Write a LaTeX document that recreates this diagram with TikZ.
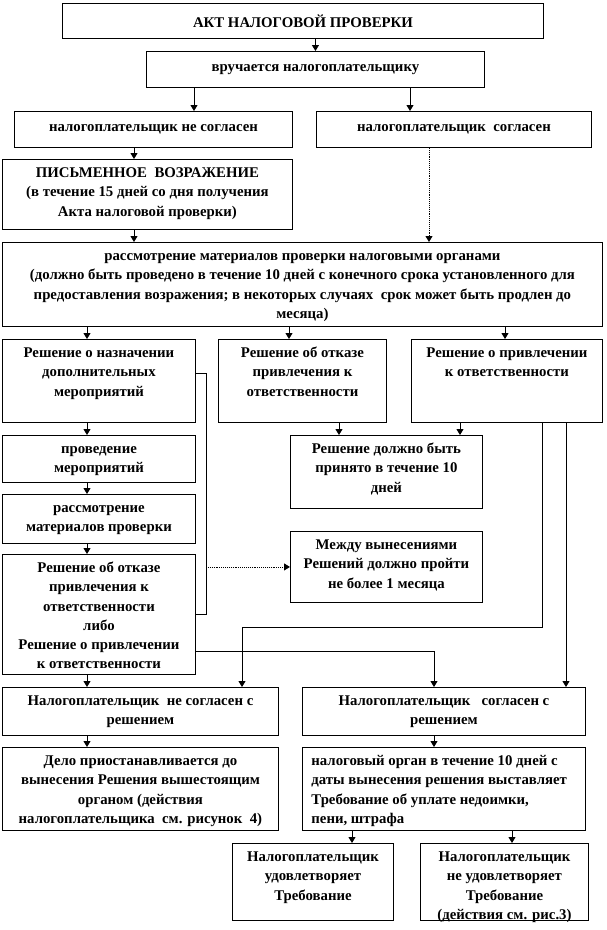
\documentclass[tikz,border=0pt]{standalone}
\usepackage{fontspec}
\setmainfont{Liberation Serif}[BoldFont={Liberation Serif Bold}]
\usetikzlibrary{arrows.meta}
\newcommand\bxc[3]{\parbox[c][#2pt][c]{#1pt}{\centering #3\par}}
\newcommand\bxt[3]{\parbox[c][#2pt][t]{#1pt}{\centering\vspace*{4.5pt}\strut #3\par}}
\newcommand\bxl[3]{\parbox[c][#2pt][t]{#1pt}{\raggedright\leftskip=9pt\vspace*{4.5pt}\strut #3\par}}
\begin{document}
\begin{tikzpicture}[x=1pt,y=-1pt,
  bx/.style={draw, line width=0.9pt, inner sep=0pt, anchor=north west,
    font=\bfseries\fontsize{14.8}{19.3}\selectfont},
  ar/.style={line width=0.9pt, -{Triangle[width=7pt,length=6pt]}},
  ln/.style={line width=0.9pt}]
\useasboundingbox (0,0) rectangle (606,930);

% boxes
\node[bx] (akt) at (62,3)   {\bxc{481}{35}{АКТ НАЛОГОВОЙ ПРОВЕРКИ}};
\node[bx] (vr)  at (146,51) {\bxc{338}{36}{вручается налогоплательщику}};
\node[bx] (nes) at (14,111) {\bxc{278}{36}{налогоплательщик не согласен}};
\node[bx] (sog) at (316,111){\bxc{275}{36}{налогоплательщик \ согласен}};
\node[bx] (pis) at (2,159)  {\bxt{290}{70}{ПИСЬМЕННОЕ \ ВОЗРАЖЕНИЕ\\(в течение 15 дней со дня получения\\Акта налоговой проверки)}};
\node[bx] (ras) at (2,242)  {\bxt{600}{84}{рассмотрение материалов проверки налоговыми органами\\(должно быть проведено в течение 10 дней с конечного срока установленного для\\предоставления возражения; в некоторых случаях \ срок может быть продлен до\\месяца)}};
\node[bx] (r1)  at (2,339)  {\bxt{193}{83}{Решение о назначении\\дополнительных\\мероприятий}};
\node[bx] (r2)  at (218,339){\bxt{168}{83}{Решение об отказе\\привлечения к\\ответственности}};
\node[bx] (r3)  at (411,339){\bxt{191}{83}{Решение о привлечении\\к ответственности}};
\node[bx] (pm)  at (2,435)  {\bxt{193}{47}{проведение\\мероприятий}};
\node[bx] (rm)  at (2,494)  {\bxt{193}{49}{рассмотрение\\материалов проверки}};
\node[bx] (r4)  at (2,554)  {\bxt{193}{120}{Решение об отказе\\привлечения к\\ответственности\\либо\\Решение о привлечении\\к ответственности}};
\node[bx] (rd)  at (290,435){\bxt{192}{73}{Решение должно быть\\принято в течение 10\\дней}};
\node[bx] (mv)  at (290,531){\bxt{192}{71}{Между вынесениями\\Решений должно пройти\\не более 1 месяца}};
\node[bx] (nsr) at (2,687)  {\bxt{276}{48}{Налогоплательщик \ не согласен с\\решением}};
\node[bx] (ssr) at (302,687){\bxt{283}{48}{Налогоплательщик \ \ согласен с\\решением}};
\node[bx] (delo) at (2,747) {\bxt{276}{83}{Дело приостанавливается до\\вынесения Решения вышестоящим\\органом (действия\\налогоплательщика \ см. рисунок \ 4)}};
\node[bx] (nal) at (302,747){\bxl{283}{83}{налоговый орган в течение 10 дней с\\даты вынесения решения выставляет\\Требование об уплате недоимки,\\пени, штрафа}};
\node[bx] (ud)  at (232,843){\bxt{161}{77}{Налогоплательщик\\удовлетворяет\\Требование}};
\node[bx] (nud) at (420,843){\bxt{168}{77}{Налогоплательщик\\не удовлетворяет\\Требование\\(действия см. рис.3)}};

% column coordinates
\coordinate (xa) at (194,0);
\coordinate (xb) at (410,0);
\coordinate (xc) at (134,0);
\coordinate (xd) at (429,0);
\coordinate (xe) at (87,0);
\coordinate (xf) at (289,0);
\coordinate (xg) at (505,0);
\coordinate (xh) at (339,0);
\coordinate (xi) at (460,0);
\coordinate (xj) at (542,0);
\coordinate (xk) at (566,0);
\coordinate (xl) at (242,0);
\coordinate (xm) at (434,0);
\coordinate (xn) at (352,0);
\coordinate (xo) at (512,0);
\coordinate (xbr) at (206,0);
\coordinate (ya) at (0,373);
\coordinate (yb) at (0,614);
\coordinate (yc) at (0,627);
\coordinate (yd) at (0,651);

% connectors
\draw[ar] (akt.south -| vr.north) -- (vr.north);
\draw[ar] (vr.south -| xa) -- (nes.north -| xa);
\draw[ar] (vr.south -| xb) -- (sog.north -| xb);
\draw[ar] (nes.south -| xc) -- (pis.north -| xc);
\draw[ar] (pis.south -| xc) -- (ras.north -| xc);
\draw[ar, densely dotted] (sog.south -| xd) -- (ras.north -| xd);
\draw[ar] (ras.south -| xe) -- (r1.north -| xe);
\draw[ar] (ras.south -| xf) -- (r2.north -| xf);
\draw[ar] (ras.south -| xg) -- (r3.north -| xg);
\draw[ar] (r1.south -| xe) -- (pm.north -| xe);
\draw[ar] (pm.south -| xe) -- (rm.north -| xe);
\draw[ar] (rm.south -| xe) -- (r4.north -| xe);
\draw[ar] (r2.south -| xh) -- (rd.north -| xh);
\draw[ar] (r3.south -| xi) -- (rd.north -| xi);
\draw[ln] (r1.east |- ya) -- (xbr |- ya) -- (xbr |- yb) -- (r4.east |- yb);
\coordinate (bm) at (xbr |- mv.west);
\draw[ar, densely dotted] (bm) -- (mv.west);
\draw[ar] (r3.south -| xj) -- (xj |- yc) -- (xl |- yc) -- (nsr.north -| xl);
\draw[ar] (r3.south -| xk) -- (ssr.north -| xk);
\draw[ar] (r4.east |- yd) -- (xm |- yd) -- (ssr.north -| xm);
\draw[ar] (r4.south -| xe) -- (nsr.north -| xe);
\draw[ar] (nsr.south -| xe) -- (delo.north -| xe);
\draw[ar] (ssr.south -| xm) -- (nal.north -| xm);
\draw[ar] (nal.south -| xn) -- (ud.north -| xn);
\draw[ar] (nal.south -| xo) -- (nud.north -| xo);
\end{tikzpicture}
\end{document}
